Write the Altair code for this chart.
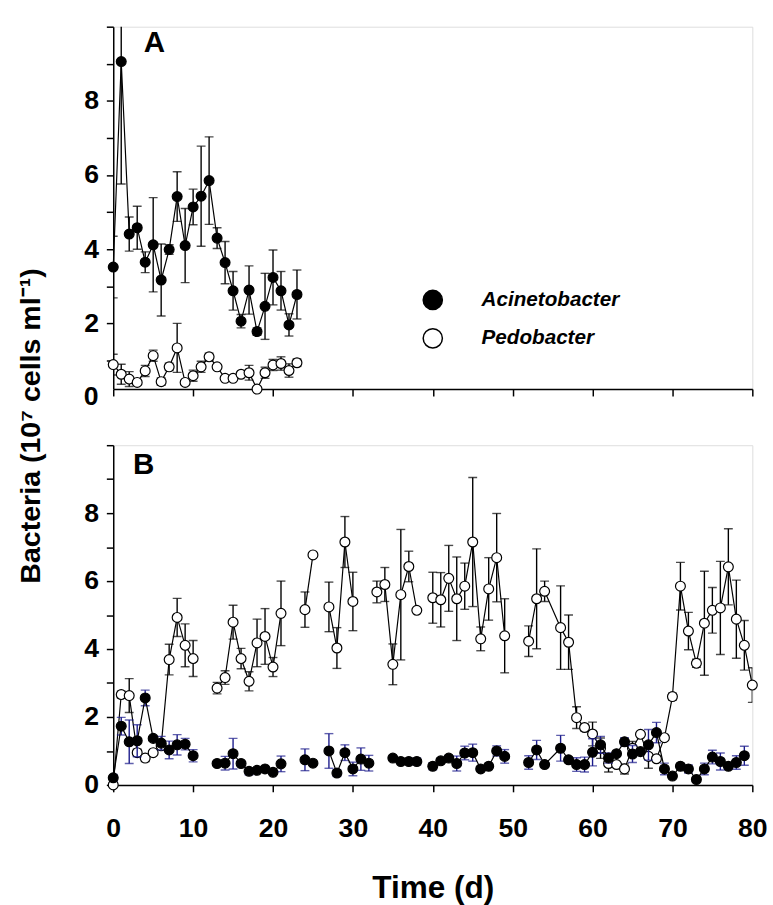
import altair as alt
import pandas as pd
import numpy as np

FONT = "Liberation Sans"
ERR_BLUE = "#1c1c8c"

# ---------------- Panel A (days 0-23) ----------------
A_days = list(range(0, 24))
A_aci = [3.52, 9.06, 4.41, 4.58, 3.65, 4.12, 3.17, 3.99, 5.42, 4.10, 5.14, 5.43,
         5.85, 4.30, 3.64, 2.88, 2.06, 2.90, 1.78, 2.46, 3.24, 2.88, 1.96, 2.78]
A_aci_err = [0.83, 3.30, 0.46, 0.58, 0.28, 1.27, 0.97, 0.13, 0.67, 1.00, 0.48, 1.35,
             1.18, 0.28, 0.57, 0.52, 0.18, 0.65, 0.10, 0.89, 0.74, 0.52, 0.30, 0.66]
A_ped = [0.89, 0.63, 0.50, 0.41, 0.72, 1.13, 0.43, 0.83, 1.34, 0.41, 0.59, 0.83,
         1.10, 0.83, 0.52, 0.52, 0.63, 0.67, 0.23, 0.67, 0.88, 0.92, 0.73, 0.94]
A_ped_err = [0.28, 0.27, 0.20, 0.05, 0.15, 0.15, 0.10, 0.10, 0.66, 0.05, 0.15, 0.15,
             0.10, 0.05, 0.05, 0.05, 0.05, 0.20, 0.05, 0.15, 0.15, 0.18, 0.18, 0.10]

# ---------------- Panel B (days 0-80) ----------------
B_ped_days = [0, 1, 2, 3, 4, 5, 6, 7, 8, 9, 10,
              13, 14, 15, 16, 17, 18, 19, 20, 21,
              24, 25,
              27, 28, 29, 30,
              33, 34, 35, 36, 37, 38,
              40, 41, 42, 43, 44, 45, 46, 47, 48, 49,
              52, 53, 54, 56, 57, 58, 59, 60, 61, 62, 63, 64, 65, 66, 67, 68, 69,
              70, 71, 72, 73, 74, 75, 76, 77, 78, 79, 80]
B_ped = [0.00, 2.66, 2.63, 0.95, 0.79, 0.95, 1.15, 3.69, 4.93, 4.11, 3.72,
         2.85, 3.16, 4.79, 3.72, 3.05, 4.18, 4.37, 3.47, 5.05,
         5.16, 6.77,
         5.24, 4.03, 7.15, 5.40,
         5.68, 5.90, 3.55, 5.60, 6.43, 5.14,
         5.51, 5.45, 6.08, 5.48, 5.85, 7.15, 4.30, 5.77, 6.69, 4.39,
         4.23, 5.48, 5.70, 4.63, 4.20, 1.98, 1.69, 1.50, 1.08, 0.63, 0.60, 0.47, 1.08, 1.49, 0.84, 0.77, 1.39,
         2.60, 5.85, 4.53, 3.58, 4.76, 5.14, 5.21, 6.42, 4.88, 4.11, 2.94]
B_ped_err = [0.05, 0.10, 0.50, 0.10, 0.10, 0.05, 0.05, 0.45, 0.56, 0.63, 0.53,
             0.17, 0.20, 0.50, 0.30, 0.28, 0.70, 0.82, 0.28, 0.95,
             0.52, 0.05,
             0.73, 0.60, 0.75, 0.86,
             0.32, 0.50, 0.60, 1.92, 0.45, 0.05,
             0.75, 0.80, 0.97, 1.23, 0.68, 1.90, 0.35, 0.92, 1.30, 1.09,
             0.45, 1.47, 0.30, 1.23, 0.80, 0.32, 0.10, 0.35, 0.30, 0.25, 0.05, 0.15, 0.20, 0.05, 0.35, 0.05, 0.05,
             0.10, 0.70, 0.55, 0.12, 1.53, 0.67, 1.37, 1.12, 1.15, 0.73, 0.51]
B_ped_breaks = [13, 24, 27, 33, 40, 52]

B_aci_days = [0, 1, 2, 3, 4, 5, 6, 7, 8, 9, 10,
              13, 14, 15, 16, 17, 18, 19, 20, 21,
              24, 25,
              27, 28, 29, 30, 31, 32,
              35, 36, 37, 38,
              40, 41, 42, 43, 44, 45, 46, 47, 48, 49,
              52, 53, 54, 56, 57, 58, 59, 60, 61, 62, 63, 64, 65, 66, 67, 68, 69,
              70, 71, 72, 73, 74, 75, 76, 77, 78, 79]
B_aci = [0.21, 1.73, 1.27, 1.30, 2.56, 1.37, 1.23, 1.03, 1.18, 1.20, 0.86,
         0.63, 0.64, 0.92, 0.63, 0.40, 0.43, 0.47, 0.37, 0.62,
         0.74, 0.64,
         1.00, 0.35, 0.95, 0.47, 0.76, 0.64,
         0.79, 0.69, 0.69, 0.69,
         0.55, 0.71, 0.79, 0.63, 0.94, 0.95, 0.47, 0.55, 1.00, 0.84,
         0.66, 1.03, 0.60, 1.08, 0.74, 0.60, 0.60, 0.96, 1.18, 0.79, 0.92, 1.27, 0.91, 0.98, 1.18, 1.54, 0.47,
         0.26, 0.55, 0.47, 0.16, 0.47, 0.82, 0.69, 0.55, 0.66, 0.86]
B_aci_err = [0.10, 0.26, 0.64, 0.47, 0.23, 0.05, 0.20, 0.26, 0.30, 0.17, 0.18,
             0.05, 0.20, 0.45, 0.05, 0.10, 0.05, 0.05, 0.05, 0.23,
             0.32, 0.05,
             0.51, 0.10, 0.23, 0.20, 0.33, 0.23,
             0.05, 0.05, 0.05, 0.10,
             0.10, 0.05, 0.05, 0.22, 0.20, 0.25, 0.05, 0.05, 0.15, 0.20,
             0.20, 0.28, 0.05, 0.38, 0.05, 0.20, 0.22, 0.40, 0.25, 0.15, 0.05, 0.12, 0.25, 0.05, 0.45, 0.30, 0.17,
             0.05, 0.05, 0.12, 0.05, 0.17, 0.20, 0.25, 0.05, 0.20, 0.28]
B_aci_breaks = [13, 24, 27, 35, 40, 52]

SPECIES = ["Acinetobacter", "Pedobacter"]
X_TICKS = list(range(0, 81, 10))
Y_TICKS = list(range(0, 11))


def frame(days, vals, errs, breaks, species):
    df = pd.DataFrame({"day": days, "value": vals, "err": errs})
    df["lo"] = df["value"] - df["err"]
    df["hi"] = df["value"] + df["err"]
    df["seg"] = np.searchsorted(np.array(sorted(breaks)), df["day"].to_numpy(), side="right")
    df["species"] = species
    return df


dfA_aci = frame(A_days, A_aci, A_aci_err, [], SPECIES[0])
dfA_ped = frame(A_days, A_ped, A_ped_err, [], SPECIES[1])
dfB_aci = frame(B_aci_days, B_aci, B_aci_err, B_aci_breaks, SPECIES[0])
dfB_ped = frame(B_ped_days, B_ped, B_ped_err, B_ped_breaks, SPECIES[1])

W = 649
HA = 368
HB = 345
TICK_FS = 27

axis_common = dict(
    domainColor="black", domainWidth=1.5, tickColor="black", tickWidth=1.5,
    tickSize=7, grid=False, labelFont=FONT, labelFontSize=TICK_FS, labelFontWeight="bold",
    labelColor="black", labelFlush=False, labelOverlap=False,
)
even_expr = "datum.value % 2 == 0 && datum.value < 10 ? datum.label : ''"

xA = alt.X("day:Q", scale=alt.Scale(domain=[0, 80], nice=False, zero=False),
           axis=alt.Axis(values=X_TICKS, labels=False, title=None, **axis_common))
yA_scale = alt.Scale(domain=[0.23, 10], nice=False, zero=False)
yA_axis = alt.Axis(values=Y_TICKS, labelExpr=even_expr, labelPadding=8,
                   title="Bacteria (10\u2077 cells ml\u207b\u00b9)",
                   titleFont=FONT, titleFontSize=29, titleFontWeight="bold", titleColor="black",
                   titleAngle=270, titleAlign="center", titleBaseline="alphabetic",
                   titleX=-75, titleY=405, **axis_common)

xB = alt.X("day:Q", scale=alt.Scale(domain=[0, 80], nice=False, zero=False),
           axis=alt.Axis(values=X_TICKS, format="d", labelPadding=24, title="Time (d)",
                         titleFont=FONT, titleFontSize=32, titleFontWeight="bold",
                         titleColor="black", titlePadding=32, **axis_common))
yB_scale = alt.Scale(domain=[0, 10], nice=False, zero=False)
yB_axis = alt.Axis(values=Y_TICKS, labelExpr=even_expr, labelPadding=8, title=None, **axis_common)


def series(df, x, yscale, yaxis, errcolor, point_fill, legend=None):
    base = alt.Chart(df)
    rule = base.mark_rule(color=errcolor, strokeWidth=1.4, clip=True).encode(
        x=x, y=alt.Y("lo:Q", scale=yscale, axis=yaxis), y2="hi:Q")
    caps = base.transform_fold(["lo", "hi"], as_=["end", "yv"]).mark_tick(
        orient="horizontal", size=9, thickness=1.4, color=errcolor, clip=True
    ).encode(x=x, y=alt.Y("yv:Q", scale=yscale, axis=yaxis))
    line = base.mark_line(color="black", strokeWidth=1.2).encode(
        x=x, y=alt.Y("value:Q", scale=yscale, axis=yaxis), detail="seg:N")
    if legend is not None:
        pts = base.mark_circle(size=100, stroke="black", strokeWidth=1.2, opacity=1).encode(
            x=x, y=alt.Y("value:Q", scale=yscale, axis=yaxis),
            fill=alt.Fill("species:N", scale=alt.Scale(domain=SPECIES, range=["black", "white"]),
                          legend=legend))
    else:
        pts = base.mark_circle(size=100, stroke="black", strokeWidth=1.2, opacity=1,
                               fill=point_fill).encode(
            x=x, y=alt.Y("value:Q", scale=yscale, axis=yaxis))
    return [rule, caps, line, pts]


legend = alt.Legend(
    orient="none", legendX=314, legendY=267, title=None, padding=0,
    symbolType="circle", symbolSize=380, symbolStrokeColor="black", symbolStrokeWidth=1.5,
    symbolOpacity=1, labelFont=FONT, labelFontSize=21, labelFontWeight="bold",
    labelFontStyle="italic", labelColor="black", labelOffset=39, rowPadding=12,
)

panel_label = lambda t, px, py: alt.Chart(pd.DataFrame({"t": [t]})).mark_text(
    font=FONT, fontSize=30, fontWeight="bold", align="left", baseline="alphabetic", color="black"
).encode(x=alt.value(px), y=alt.value(py), text="t:N")

# the "0" label of panel A sits below the axis line (axis starts just above zero)
zero_label = alt.Chart(pd.DataFrame({"v": [0], "t": ["0"]})).mark_text(
    font=FONT, fontSize=TICK_FS, fontWeight="bold", align="right", baseline="middle", color="black"
).encode(x=alt.value(-15), y=alt.Y("v:Q", scale=yA_scale, axis=yA_axis), text="t:N")

layersA = (series(dfA_ped, xA, yA_scale, yA_axis, "black", "white", legend=legend)
           + series(dfA_aci, xA, yA_scale, yA_axis, "black", "black", legend=legend)
           + [panel_label("A", 31, 26), zero_label])
panelA = alt.layer(*layersA).properties(width=W, height=HA)

layersB = (series(dfB_ped, xB, yB_scale, yB_axis, "black", "white")
           + series(dfB_aci, xB, yB_scale, yB_axis, ERR_BLUE, "black")
           + [panel_label("B", 20, 29)])
panelB = alt.layer(*layersB).properties(width=W, height=HB)

chart = alt.vconcat(panelA, panelB, spacing=57, bounds="flush").properties(
    padding={"left": 16, "top": 5, "right": 5, "bottom": 5}
).configure_view(stroke=None).configure(background="white")

chart.save("out.html", embed_options={"renderer": "svg", "actions": False})
